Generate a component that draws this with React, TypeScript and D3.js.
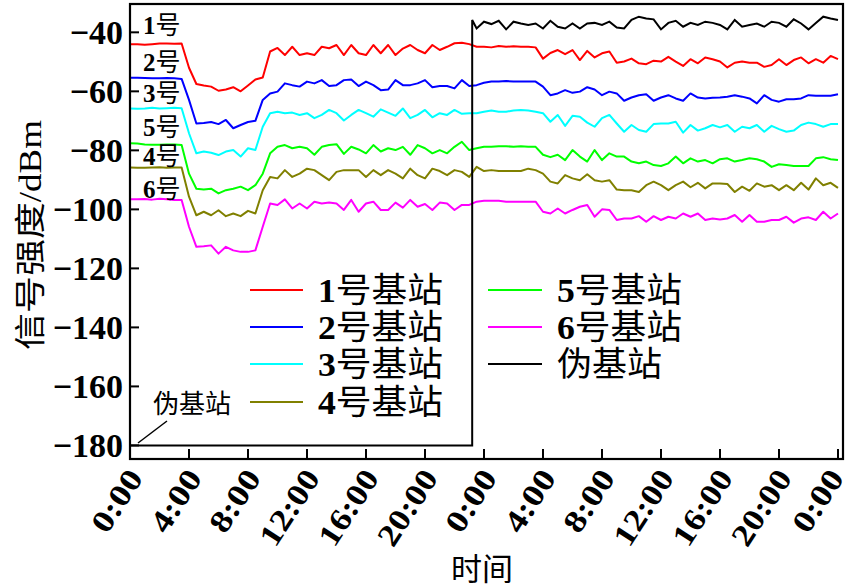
import React from 'react';
import * as d3 from 'd3';

// ---------- data ----------
const hours = d3.range(0, 48.001, 0.5); // 97 samples, every half hour over two days
const xTicks = [0, 4, 8, 12, 16, 20, 24, 28, 32, 36, 40, 44, 48];
const xTickLabels = ['0:00', '4:00', '8:00', '12:00', '16:00', '20:00', '0:00', '4:00', '8:00', '12:00', '16:00', '20:00', '0:00'];
const yTicks = [-40, -60, -80, -100, -120, -140, -160, -180];

const station1 = [
  -44, -44, -44.2, -44, -43.8, -43.8, -43.9, -43.8,
  -52, -57.5, -58, -58.4, -59.8, -59.4, -58.6, -60,
  -58, -56, -55.3, -46.5, -45.3, -47.7, -44.9, -47.7,
  -47.1, -47.7, -44.9, -45.4, -44.3, -47.7, -44.3, -47.1,
  -47.7, -44.3, -47.1, -44.3, -47.7, -45.5, -44.3, -46,
  -47.1, -44.3, -46, -44.9, -43.7, -43.5, -44, -44.9,
  -44.9, -45.1, -44.6, -44.9, -44.7, -44.9, -44.9, -45.1,
  -48.9, -47, -46, -47.4, -46, -49.4, -46.3, -48.5,
  -47.1, -46.5, -50.3, -49.9, -48.9, -50.5, -50.8, -49.6,
  -49.9, -48.3, -49.9, -51.4, -49.1, -50.5, -48.5, -49.1,
  -49.9, -51.9, -50.3, -49.9, -50.3, -50.3, -51.7, -51.1,
  -49.1, -51.1, -49.4, -48.5, -50.5, -49.1, -50.3, -48,
  -49.1,
];
const station2 = [
  -55.4, -55.4, -55.5, -55.6, -55.6, -55.5, -55.6, -55.8,
  -62.9, -70.9, -70.7, -70.4, -71.1, -69.7, -72.5, -71.4,
  -70.4, -70, -62.9, -60.7, -60.1, -57.3, -57.9, -58.4,
  -56.7, -57.3, -56.2, -58.2, -57.9, -56.2, -56, -58.2,
  -56.7, -57.9, -59.6, -59.4, -56.2, -57.9, -57.9, -57.3,
  -56.2, -58.6, -58.2, -58.2, -59, -56.2, -58.2, -57.9,
  -57.1, -56.7, -56.7, -56.5, -56.7, -56.7, -56.7, -56.7,
  -58.4, -61.3, -60.7, -59.6, -60.5, -60.1, -58.6, -59.4,
  -61.3, -60.1, -60.7, -63.2, -62.1, -61.3, -61, -63.2,
  -62.1, -61.3, -62.4, -63.2, -60.7, -62.1, -62.4, -62.2,
  -62.1, -61.8, -61.3, -61.8, -62.4, -64.1, -61.3, -62.9,
  -63.5, -62.7, -62.7, -62.4, -61.3, -61.5, -61.5, -61.5,
  -61,
];
const station3 = [
  -65.8, -65.9, -65.8, -65.6, -65.8, -65.7, -65.6, -65.7,
  -74.2, -81, -80.4, -80.8, -81.6, -80.4, -79.9, -82.1,
  -79.3, -79.9, -72, -67.4, -66.9, -67.4, -67.2, -68,
  -67.4, -69.1, -68, -66.3, -67.4, -69.9, -68, -66.3,
  -67.4, -68.6, -66.1, -67.2, -68.3, -65.8, -69.1, -68,
  -66.3, -68.8, -67.4, -68, -66.3, -67.6, -67.4, -67.4,
  -66.9, -66.5, -66.9, -66.9, -66.5, -66.3, -66.5, -66.9,
  -67.4, -70.3, -68, -71.7, -68.3, -68.6, -70.6, -72,
  -69.1, -68, -70.9, -73.7, -71.4, -73.1, -73.7, -71.1,
  -70.9, -70.9, -70.3, -74, -71.4, -73.3, -72.5, -71.4,
  -72.2, -71.4, -73.7, -72, -72.5, -71.4, -73.7, -71.7,
  -72.8, -73.7, -73.3, -71.4, -70.6, -71.1, -72, -71.1,
  -71.1,
];
const station4 = [
  -85.8, -85.9, -85.9, -85.8, -85.7, -85.9, -85.8, -85.8,
  -95.7, -102, -100.8, -102, -100.3, -102.3, -101.4, -102.3,
  -100.5, -101.4, -93.5, -89, -89.5, -86.7, -89, -87.9,
  -86.2, -86.7, -88.4, -90.1, -87.3, -86.7, -86.7, -86.7,
  -89, -86.7, -88.4, -86.7, -87.9, -89.5, -86.2, -88.4,
  -89.5, -86.2, -87, -88.4, -86.7, -87.3, -89, -85.6,
  -87, -86.7, -87, -87, -87, -87, -86.2, -86.7,
  -87.9, -90.6, -91.2, -88.4, -89.5, -90.1, -88.1, -90.1,
  -90.6, -90.1, -93.3, -93.5, -93.5, -94.1, -91.8, -90.6,
  -91.8, -93.5, -91.8, -90.6, -92.5, -91, -92.9, -91.2,
  -91.2, -91.4, -94.1, -92.3, -93.7, -91.2, -92.3, -91.8,
  -93.5, -91.8, -93.5, -91, -93.3, -89.5, -91.8, -91,
  -92.7,
];
const station5 = [
  -77.6, -77.7, -78, -78.1, -78.1, -78, -78, -78.2,
  -87.9, -93, -93.3, -93, -94.6, -93.5, -93, -92.3,
  -93.5, -91.8, -87.9, -81, -78.8, -78.2, -79.3, -78.8,
  -79.3, -81.5, -78.8, -78.2, -77.9, -81.2, -78.8, -79.7,
  -81, -78.2, -80.4, -79.3, -79.9, -78.8, -81.5, -78.2,
  -79.3, -81, -79.9, -81, -78.8, -77.1, -79.9, -79.3,
  -78.8, -78.8, -78.6, -78.6, -78.8, -78.6, -78.8, -78.8,
  -81.5, -82.3, -81.5, -83.3, -79.9, -82.1, -83.8, -79.9,
  -83.3, -81, -82.1, -82.1, -83.8, -84.4, -83.8, -85,
  -85.3, -84.4, -82.1, -84.4, -82.7, -83.8, -83.3, -84.4,
  -83, -82.7, -83.8, -83.3, -82.7, -83, -83.8, -85.6,
  -84.7, -85, -85.3, -85.3, -85.3, -82.7, -82.3, -83,
  -83.3,
];
const station6 = [
  -96.6, -96.6, -96.5, -96.7, -96.4, -96.6, -96.8, -96.8,
  -105.9, -112.7, -112.5, -112.2, -115, -112.7, -113.9, -114.4,
  -114.4, -113.9, -105.9, -98, -98.5, -96.6, -99.7, -98,
  -99.7, -97.4, -98, -97.7, -98, -100.2, -96.8, -100.8,
  -98, -97.4, -100.2, -100.2, -97.7, -99.4, -96.8, -99.1,
  -98.2, -100.2, -97.7, -98, -100.2, -98.5, -98.5, -97.4,
  -97.1, -97.1, -97.1, -97.4, -97.4, -97.4, -97.4, -97.4,
  -100.8, -101.4, -99.7, -101.4, -100.2, -99.1, -98.5, -102.5,
  -100, -100.2, -103.6, -103.1, -103.1, -102.3, -104.2, -102.3,
  -103.6, -102.5, -103.1, -101.4, -102.5, -101.4, -103.6, -103.1,
  -103.4, -103.1, -101.9, -104.2, -101.9, -104.2, -104.2, -103.6,
  -103.6, -102.5, -104.5, -103.1, -102.7, -103.6, -100.8, -103.1,
  -101.4,
];

// fake base station: absent (-180) until ~23:12 on day one, then strong signal
const fakeHours = [0, 23.2, 23.2, ...d3.range(23.5, 48.001, 0.5)];
const fakeValues = [
  -180, -180, -35.8,
  -38.7, -36.4, -37.2, -36.1, -39, -36.4, -37, -37.5, -37, -38.7,
  -36.1, -38.1, -38.7, -37, -38.7, -37, -36.8, -37.5, -36.4, -38.4,
  -38.7, -35.8, -34.7, -35.3, -35.6, -39, -36.8, -36.1, -38.1, -36.8,
  -37.5, -36.4, -36.8, -37.5, -39, -35.8, -38.1, -37.5, -37, -38.1,
  -36.4, -36.8, -38.1, -35.6, -37, -39, -36.8, -34.7, -35.3, -35.8,
];

const seriesNames = ['1号基站', '2号基站', '3号基站', '4号基站', '5号基站', '6号基站', '伪基站'];
const seriesColors = ['#ff0000', '#0000ff', '#00ffff', '#808000', '#00ff00', '#ff00ff', '#000000'];
const inlineLabels = ['1号', '2号', '3号', '5号', '4号', '6号'];

const FONT = "'Liberation Serif', 'Times New Roman', 'Noto Sans CJK SC', serif";

export default function App() {
  const W = 850;
  const H = 588;
  const left = 130, right = 843, top = 4, bottom = 459;
  const x = d3.scaleLinear().domain([0, 48.34]).range([left, right]);
  const y = d3.scaleLinear().domain([-184.6, -30.4]).range([bottom, top]);

  const stationSeries = [station1, station2, station3, station4, station5, station6];
  const line = d3.line<[number, number]>().x((d) => x(d[0])).y((d) => y(d[1]));

  const paths = stationSeries.map((vals, i) => ({
    d: line(vals.map((v, j) => [hours[j], v] as [number, number])) || '',
    color: seriesColors[i],
  }));
  const fakePath = line(fakeValues.map((v, j) => [fakeHours[j], v] as [number, number])) || '';

  const inlineY = [25, 62, 93, 127, 156, 189];

  const legendCol1 = [0, 1, 2, 3];
  const legendCol2 = [4, 5, 6];
  const rowY = [290, 327, 364, 402];

  const renderLegendText = (name: string, tx: number, ty: number, len: number) => {
    const m = name.match(/^(\d)(.*)$/);
    return (
      <text x={tx} y={ty} dy="0.35em" fontSize={34} fontFamily={FONT} textLength={len} lengthAdjust="spacingAndGlyphs">
        {m ? (
          <>
            <tspan fontWeight="bold">{m[1]}</tspan>
            <tspan>{m[2]}</tspan>
          </>
        ) : (
          name
        )}
      </text>
    );
  };

  return (
    <svg width={W} height={H} style={{ position: 'absolute', left: 0, top: 0, background: '#fff' }}>
      <rect x={0} y={0} width={W} height={H} fill="#fff" />
      {/* series */}
      {paths.map((p, i) => (
        <path key={i} d={p.d} fill="none" stroke={p.color} strokeWidth={2} strokeLinejoin="round" />
      ))}
      <path d={fakePath} fill="none" stroke="#000" strokeWidth={2} />

      {/* frame */}
      <rect x={left} y={top} width={right - left} height={bottom - top} fill="none" stroke="#000" strokeWidth={2.2} />

      {/* y ticks */}
      {yTicks.map((t) => (
        <g key={t}>
          <line x1={left} x2={left + 9} y1={y(t)} y2={y(t)} stroke="#000" strokeWidth={2} />
          <text x={left - 7} y={y(t)} dy="0.35em" textAnchor="end" fontSize={34} fontWeight="bold" fontFamily={FONT}>
            {'\u2212' + Math.abs(t)}
          </text>
        </g>
      ))}

      {/* x ticks */}
      {xTicks.map((t, i) => (
        <g key={i}>
          <line x1={x(t)} x2={x(t)} y1={bottom} y2={bottom - 10} stroke="#000" strokeWidth={2} />
          <text
            transform={`translate(${Math.min(x(t) + 14, 845)},${bottom + 19}) rotate(-57)`}
            textAnchor="end"
            fontSize={31}
            fontWeight="bold"
            fontFamily={FONT}
            textLength={xTickLabels[i].length > 4 ? 84 : 68}
            lengthAdjust="spacingAndGlyphs"
          >
            {xTickLabels[i]}
          </text>
        </g>
      ))}

      {/* axis titles */}
      <text x={482} y={569} dy="0.35em" textAnchor="middle" fontSize={31} fontFamily={FONT}>
        时间
      </text>
      <text
        transform={`translate(30,235) rotate(-90)`}
        textAnchor="middle"
        dy="0.35em"
        fontSize={31}
        fontFamily={FONT}
        textLength={230}
        lengthAdjust="spacingAndGlyphs"
      >
        信号强度/dBm
      </text>

      {/* inline station labels */}
      {inlineLabels.map((lab, i) => (
        <text key={lab} x={143} y={inlineY[i]} dy="0.35em" fontSize={25} fontFamily={FONT}>
          <tspan fontWeight="bold">{lab[0]}</tspan>
          <tspan>{lab.slice(1)}</tspan>
        </text>
      ))}

      {/* fake station annotation */}
      <text x={153} y={404} dy="0.35em" fontSize={26} fontFamily={FONT}>
        伪基站
      </text>
      <line x1={138} y1={443} x2={167} y2={421} stroke="#000" strokeWidth={1.5} />

      {/* legend */}
      {legendCol1.map((si, r) => (
        <g key={si}>
          <line x1={250} x2={303} y1={rowY[r]} y2={rowY[r]} stroke={seriesColors[si]} strokeWidth={2} />
          {renderLegendText(seriesNames[si], 318, rowY[r], 125)}
        </g>
      ))}
      {legendCol2.map((si, r) => (
        <g key={si}>
          <line x1={488} x2={542} y1={rowY[r]} y2={rowY[r]} stroke={seriesColors[si]} strokeWidth={2} />
          {renderLegendText(seriesNames[si], 557, rowY[r], seriesNames[si].length === 4 ? 125 : 105)}
        </g>
      ))}
    </svg>
  );
}
